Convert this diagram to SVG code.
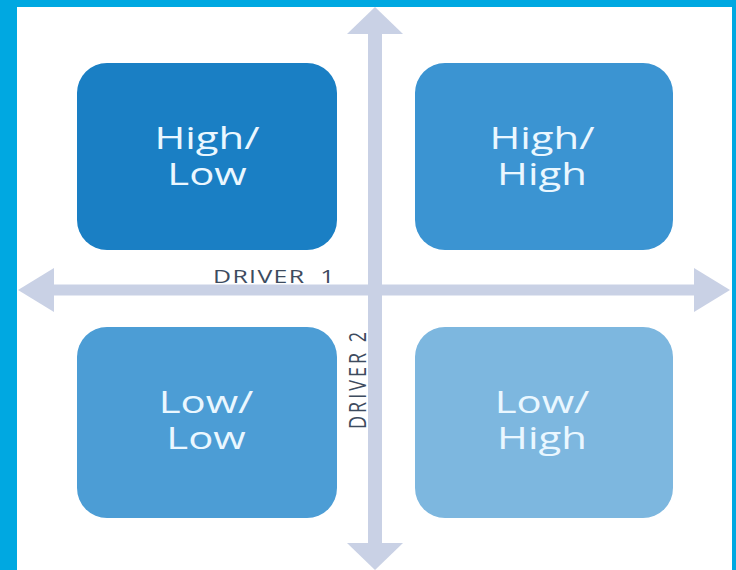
<svg xmlns="http://www.w3.org/2000/svg" width="736" height="570" viewBox="0 0 736 570">
  <style>
    .box text { font-family: "Open Sans", "Liberation Sans", sans-serif; font-size: 31px; fill: #eaf7ff; text-anchor: middle; }
    .axis { fill: #c9d1e5; }
    .lbl { font-family: "Open Sans", "Liberation Sans", sans-serif; font-size: 18px; fill: #3d4b5e; letter-spacing: 1px; }
  </style>
  <rect x="0" y="0" width="736" height="570" fill="#00a8e1"/>
  <rect x="17" y="7" width="715" height="563" fill="#ffffff"/>

  <g id="connectors">
    <rect class="axis" x="50" y="284.5" width="648" height="11"/>
    <polygon class="axis" points="18,290 54,268 54,312"/>
    <polygon class="axis" points="730,290 694,268 694,312"/>
    <rect class="axis" x="368" y="30" width="14" height="516"/>
    <polygon class="axis" points="375,7 347,34 403,34"/>
    <polygon class="axis" points="375,570 347,543 403,543"/>
  </g>

  <g id="node-high-low" class="box">
    <rect x="77" y="63" width="260" height="187" rx="30" fill="#1a7fc4"/>
    <text transform="translate(207,149) scale(1.35,1)"><tspan x="0" y="0">High/</tspan><tspan x="0" y="36">Low</tspan></text>
  </g>
  <g id="node-high-high" class="box">
    <rect x="415" y="63" width="258" height="187" rx="30" fill="#3b94d2"/>
    <text transform="translate(542,149) scale(1.35,1)"><tspan x="0" y="0">High/</tspan><tspan x="0" y="36">High</tspan></text>
  </g>
  <g id="node-low-low" class="box">
    <rect x="77" y="327" width="260" height="191" rx="30" fill="#4c9dd5"/>
    <text transform="translate(206,413) scale(1.35,1)"><tspan x="0" y="0">Low/</tspan><tspan x="0" y="36">Low</tspan></text>
  </g>
  <g id="node-low-high" class="box">
    <rect x="415" y="327" width="258" height="191" rx="30" fill="#7db7df"/>
    <text transform="translate(542,413) scale(1.35,1)"><tspan x="0" y="0">Low/</tspan><tspan x="0" y="36">High</tspan></text>
  </g>

  <g id="labels">
    <text class="lbl" transform="translate(213,283) scale(1.38,1)">DRIVER <tspan dx="5">1</tspan></text>
    <text class="lbl" text-anchor="middle" style="letter-spacing:3px" transform="translate(366,379) scale(1.35,1) rotate(-90)">DRIVER 2</text>
  </g>
</svg>
